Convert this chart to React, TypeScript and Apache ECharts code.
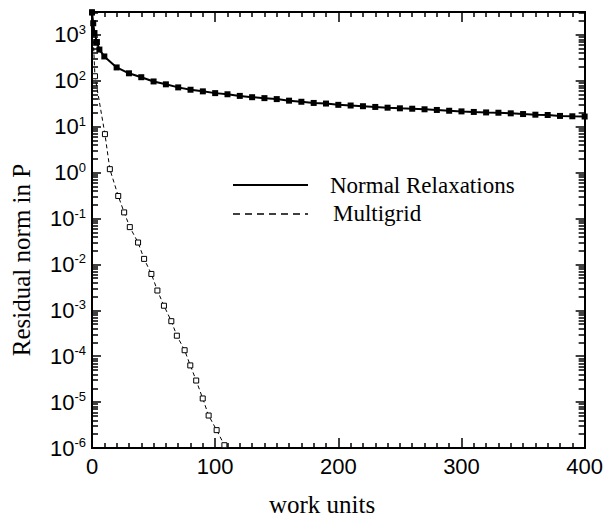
import React, { useEffect, useRef } from "react";
import * as echarts from "echarts";

// ---- data ----
const relaxX = [0, 1, 2, 4, 6, 10, 20, 30, 40, 50, 60, 70, 80, 90, 100, 110, 120, 130, 140, 150, 160, 170, 180, 190, 200, 210, 220, 230, 240, 250, 260, 270, 280, 290, 300, 310, 320, 330, 340, 350, 360, 370, 380, 390, 400];
const relaxY = [3100, 1800, 1100, 700, 480, 340, 196, 146, 120, 97, 84, 72, 64, 59, 54, 51, 47, 44, 42, 40, 37, 35, 33, 32, 30, 29, 28, 27, 26, 25.2, 24.7, 24, 23.2, 22.3, 21.6, 21, 20.5, 20.2, 19.6, 18.9, 18.3, 18, 17.2, 16.9, 16.7];

const mgX = [0, 2.4, 10.5, 14.5, 21.3, 26.1, 30.7, 37.4, 42.3, 48.2, 53.1, 58.4, 64.4, 68.9, 75.2, 79.8, 84.6, 89.9, 94.7, 101.2, 107.5];
const mgY = [3100, 126, 6.9, 1.19, 0.31, 0.136, 0.065, 0.03, 0.0132, 0.0062, 0.0027, 0.00126, 5.8e-4, 2.8e-4, 1.35e-4, 6.3e-5, 2.95e-5, 1.2e-5, 5.1e-6, 2.45e-6, 1.15e-6];

const xTicks = [0, 100, 200, 300, 400];
const yMajor = [1e-6, 1e-5, 1e-4, 1e-3, 1e-2, 1e-1, 1, 10, 100, 1000];

const yMin = 1e-6;
const yMax = Math.pow(10, 3.5);

const yMinor: number[] = [];
for (let n = -6; n <= 3; n++) {
  for (let k = 2; k <= 9; k++) {
    const v = Number((k * Math.pow(10, n)).toPrecision(3));
    if (v < yMax) yMinor.push(v);
  }
}

const SANS = '"Liberation Sans", Arial, sans-serif';
const SERIF = '"Liberation Serif", "Times New Roman", serif';

export default function App() {
  const ref = useRef<HTMLDivElement>(null);
  useEffect(() => {
    if (!ref.current) return;
    const chart = echarts.init(ref.current, null, { renderer: "svg" });
    const axisLine = { show: true, lineStyle: { color: "#000", width: 2 } };
    const yCommon: any = {
      type: "log",
      logBase: 10,
      min: yMin,
      max: yMax,
      splitLine: { show: false },
      minorTick: { show: false },
      minorSplitLine: { show: false },
      axisLine,
    };
    const xCommon: any = {
      type: "value",
      min: xTicks[0],
      max: xTicks[xTicks.length - 1],
      interval: 100,
      splitLine: { show: false },
      axisLine,
      axisTick: { show: true, inside: true, length: 10, lineStyle: { color: "#000", width: 1.5 } },
      minorTick: { show: true, splitNumber: 10, length: 5, lineStyle: { color: "#000", width: 1.5 } },
    };
    const majorTick = { show: true, inside: true, length: 9, customValues: yMajor, lineStyle: { color: "#000", width: 1.5 } };
    const minorTick = { show: true, inside: true, length: 6, customValues: yMinor, lineStyle: { color: "#000", width: 1.5 } };
    chart.setOption({
      animation: false,
      backgroundColor: "#fff",
      grid: { left: 92, right: 19, top: 12, bottom: 72, containLabel: false },
      xAxis: [
        {
          ...xCommon,
          position: "bottom",
          axisLabel: { show: true, margin: 7, color: "#000", fontFamily: SANS, fontSize: 22 },
        },
        { ...xCommon, position: "top", axisLabel: { show: false } },
      ],
      yAxis: [
        {
          ...yCommon,
          position: "left",
          axisTick: majorTick,
          axisLabel: {
            show: true,
            customValues: yMajor,
            margin: 6,
            formatter: (v: number) => `{b|10}{e|${Math.round(Math.log10(v))}}`,
            rich: {
              b: { fontSize: 22, fontFamily: SANS, color: "#000", lineHeight: 24 },
              e: { fontSize: 13, fontFamily: SANS, color: "#000", lineHeight: 14, verticalAlign: "top" },
            },
          },
        },
        { ...yCommon, position: "left", axisTick: minorTick, axisLabel: { show: false } },
        { ...yCommon, position: "right", axisTick: majorTick, axisLabel: { show: false } },
        { ...yCommon, position: "right", axisTick: minorTick, axisLabel: { show: false } },
      ],
      series: [
        {
          type: "line",
          name: "Normal Relaxations",
          xAxisIndex: 0,
          yAxisIndex: 0,
          data: relaxX.map((x, i) => [x, relaxY[i]]),
          symbol: "rect",
          symbolSize: 6,
          showAllSymbol: true,
          lineStyle: { color: "#000", width: 2 },
          itemStyle: { color: "#000" },
          z: 3,
        },
        {
          type: "line",
          name: "Multigrid",
          xAxisIndex: 0,
          yAxisIndex: 0,
          data: mgX.map((x, i) => [x, mgY[i]]),
          symbol: "rect",
          symbolSize: 5,
          showAllSymbol: true,
          lineStyle: { color: "#000", width: 1, type: [4, 3] },
          itemStyle: { color: "#fff", borderColor: "#000", borderWidth: 1 },
          z: 2,
        },
      ],
      graphic: [
        { type: "line", shape: { x1: 233, y1: 185, x2: 308, y2: 185 }, style: { stroke: "#000", lineWidth: 2 } },
        { type: "line", shape: { x1: 233, y1: 214, x2: 308, y2: 214 }, style: { stroke: "#000", lineWidth: 1.5, lineDash: [7, 5] } },
        {
          type: "text", x: 330, y: 185,
          style: { text: "Normal Relaxations", font: `23px ${SERIF}`, fill: "#000", verticalAlign: "middle", textVerticalAlign: "middle" },
        },
        {
          type: "text", x: 333, y: 213,
          style: { text: "Multigrid", font: `23px ${SERIF}`, fill: "#000", verticalAlign: "middle", textVerticalAlign: "middle" },
        },
        {
          type: "text", x: 322, y: 504,
          style: { text: "work units", font: `25px ${SERIF}`, fill: "#000", align: "center", textAlign: "center", verticalAlign: "middle", textVerticalAlign: "middle" },
        },
        {
          type: "text", x: 21, y: 260, rotation: Math.PI / 2,
          style: { text: "Residual norm in P", font: `25px ${SERIF}`, fill: "#000", align: "center", textAlign: "center", verticalAlign: "middle", textVerticalAlign: "middle" },
        },
      ],
    });
    return () => chart.dispose();
  }, []);
  return <div ref={ref} style={{ position: "fixed", left: 0, top: 0, width: 606, height: 520 }} />;
}
